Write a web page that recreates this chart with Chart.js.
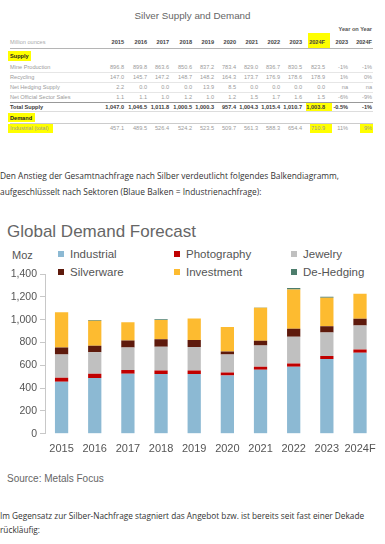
<!DOCTYPE html>
<html lang="de">
<head>
<meta charset="utf-8">
<script src="https://cdn.jsdelivr.net/npm/chart.js@4.4.1/dist/chart.umd.min.js"></script>
<style>
  html, body { margin: 0; padding: 0; background: #fff; }
  body { width: 385px; height: 544px; position: relative; overflow: hidden; font-family: "Liberation Sans", Arial, sans-serif; }
  .abs { position: absolute; white-space: nowrap; }
  .cell { position: absolute; white-space: nowrap; font-size: 5.6px; line-height: 8px; color: #9a9a9a; }
  .cell.b { font-weight: bold; color: #3a3a3a; }
  .hl { position: absolute; background: #ffff00; }
  .rule { position: absolute; left: 10px; width: 363px; }
  .para { position: absolute; left: 0; font-family: "Open Sans", sans-serif; color: #333; white-space: nowrap; }
  #legend { position: absolute; left: 58px; top: 245px; width: 330px; display: grid; grid-template-columns: 116px 117px 100px; row-gap: 0; }
  #legend div { height: 18px; line-height: 18px; font-size: 11.5px; color: #555; white-space: nowrap; }
  #legend span { display: inline-block; width: 6px; height: 6px; margin-right: 6px; vertical-align: 1px; }
</style>
</head>
<body>

<div class="abs" style="left:0;width:385px;top:10px;text-align:center;font-size:9.8px;color:#666;">Silver Supply and Demand</div>
<div id="table"></div>

<div class="para" style="top:168px;line-height:16px;font-size:8.4px;">Den Anstieg der Gesamtnachfrage nach Silber verdeutlicht folgendes Balkendiagramm,<br>aufgeschlüsselt nach Sektoren (Blaue Balken = Industrienachfrage):</div>

<div class="abs" style="left:7px;top:222px;font-size:17px;color:#666;">Global Demand Forecast</div>
<div class="abs" style="left:12px;top:249px;font-size:11px;color:#555;">Moz</div>
<div id="legend"></div>
<div class="abs" style="left:0;top:262px;width:385px;height:203px;"><canvas id="demand"></canvas></div>
<div class="abs" style="left:7px;top:473px;font-size:10px;color:#666;">Source: Metals Focus</div>

<div class="para" style="top:509px;line-height:14px;font-size:8.25px;">Im Gegensatz zur Silber-Nachfrage stagniert das Angebot bzw. ist bereits seit fast einer Dekade<br>rückläufig:</div>

<script>
// table (Silver Institute / Metals Focus)
const tableCols = ['2015', '2016', '2017', '2018', '2019', '2020', '2021', '2022', '2023', '2024F', '2023', '2024F'];
const mineProduction = ['896.8', '899.8', '863.6', '850.6', '837.2', '783.4', '829.0', '836.7', '830.5', '823.5', '-1%', '-1%'];
const recycling = ['147.0', '145.7', '147.2', '148.7', '148.2', '164.3', '173.7', '176.9', '178.6', '178.9', '1%', '0%'];
const netHedging = ['2.2', '0.0', '0.0', '0.0', '13.9', '8.5', '0.0', '0.0', '0.0', '0.0', 'na', 'na'];
const officialSales = ['1.1', '1.1', '1.0', '1.2', '1.0', '1.2', '1.5', '1.7', '1.6', '1.5', '-6%', '-9%'];
const totalSupply = ['1,047.0', '1,046.5', '1,011.8', '1,000.5', '1,000.3', '957.4', '1,004.3', '1,015.4', '1,010.7', '1,003.8', '-0.5%', '-1%'];
const industrialTotal = ['457.1', '489.5', '526.4', '524.2', '523.5', '509.7', '561.3', '588.3', '654.4', '710.9', '11%', '9%'];

// chart
const years = ['2015', '2016', '2017', '2018', '2019', '2020', '2021', '2022', '2023', '2024F'];
const industrial = [457.1, 489.5, 526.4, 524.2, 523.5, 509.7, 561.3, 588.3, 654.4, 710.9];
const photography = [35, 36, 33, 31, 31, 27, 27, 28, 28, 27];
const jewelry = [203, 190, 196, 207, 205, 157, 186, 235, 204, 210];
const silverware = [60, 56, 62, 66, 63, 28, 42, 68, 55, 60];
const investment = [310, 218, 160, 169, 188, 213, 289, 345, 250, 219];
const deHedging = [0, 8, 0, 6, 0, 0, 2, 13, 10, 0];
const yTicks = [0, 200, 400, 600, 800, 1000, 1200, 1400];

// --- table drawing ---
const table = document.getElementById('table');
const colRight = [124, 147, 169, 192, 214, 236, 258, 280, 302, 325, 348, 372];

function box(x, y, w, h) {
  const d = document.createElement('div');
  d.className = 'hl';
  d.style.cssText = `left:${x}px;top:${y}px;width:${w}px;height:${h}px`;
  table.appendChild(d);
}
function rule(y, h, c) {
  const d = document.createElement('div');
  d.className = 'rule';
  d.style.cssText = `top:${y}px;height:${h}px;background:${c}`;
  table.appendChild(d);
}
function text(t, y, opts) {
  const s = document.createElement('div');
  s.className = 'cell' + (opts.bold ? ' b' : '');
  s.textContent = t;
  s.style.top = (y - 4) + 'px';
  if (opts.right != null) s.style.right = (385 - opts.right) + 'px';
  else s.style.left = opts.left + 'px';
  if (opts.color) s.style.color = opts.color;
  table.appendChild(s);
}

box(308, 33, 22, 15);
box(8, 51, 23, 10);
box(306, 102, 26, 10);
box(8, 113, 27, 9);
box(8, 124, 45, 9);
box(310, 124, 22, 9);
box(360, 124, 13, 9);

rule(47.5, 1.5, '#b5b5b5');
[71.5, 81.5, 91.5].forEach(y => rule(y, 0.6, '#e6e6e6'));
rule(101.5, 0.8, '#999');
rule(111, 0.6, '#ddd');
rule(122.5, 0.8, '#ccc');

text('Year on Year', 29, { right: 372, bold: true, color: '#555' });
text('Million ounces', 42, { left: 10, color: '#aaa' });
tableCols.forEach((c, i) => text(c, 42, { right: colRight[i], bold: true, color: '#444' }));
text('Supply', 56, { left: 10, bold: true, color: '#222' });

const rows = [
  ['Mine Production', mineProduction, 66.7, false],
  ['Recycling', recycling, 76.7, false],
  ['Net Hedging Supply', netHedging, 86.7, false],
  ['Net Official Sector Sales', officialSales, 96.7, false],
  ['Total Supply', totalSupply, 106.5, true]
];
rows.forEach(([label, vals, y, bold]) => {
  text(label, y, { left: 10, bold });
  vals.forEach((v, i) => text(v, y, { right: colRight[i], bold }));
});
text('Demand', 118, { left: 10, bold: true, color: '#222' });
text('Industrial (total)', 128, { left: 10 });
industrialTotal.forEach((v, i) => text(v, 128, { right: colRight[i] }));

// --- chart ---
const series = [
  { label: 'Industrial', data: industrial, color: '#8cb9d3' },
  { label: 'Photography', data: photography, color: '#c00000' },
  { label: 'Jewelry', data: jewelry, color: '#c0c0c0' },
  { label: 'Silverware', data: silverware, color: '#5e1a0c' },
  { label: 'Investment', data: investment, color: '#fdbb30' },
  { label: 'De-Hedging', data: deHedging, color: '#4d7d6c' }
];

const legend = document.getElementById('legend');
series.forEach(s => {
  const item = document.createElement('div');
  item.innerHTML = `<span style="background:${s.color}"></span>${s.label}`;
  legend.appendChild(item);
});

new Chart(document.getElementById('demand'), {
  type: 'bar',
  data: {
    labels: years,
    datasets: series.map(s => ({
      label: s.label,
      data: s.data,
      backgroundColor: s.color,
      borderWidth: 0,
      barPercentage: 0.4,
      categoryPercentage: 1
    }))
  },
  options: {
    responsive: true,
    maintainAspectRatio: false,
    animation: false,
    layout: { padding: { top: 12, right: 8, left: 0, bottom: 0 } },
    plugins: { legend: { display: false }, tooltip: { enabled: false } },
    scales: {
      x: {
        stacked: true,
        grid: { display: false, drawTicks: false },
        border: { display: false },
        ticks: {
          color: '#555',
          padding: 9,
          maxRotation: 0,
          minRotation: 0,
          autoSkip: false,
          font: { family: 'Liberation Sans', size: 11 }
        }
      },
      y: {
        stacked: true,
        min: 0,
        max: 1400,
        afterBuildTicks: scale => { scale.ticks = yTicks.map(v => ({ value: v })); },
        afterFit: scale => { scale.width = 45; },
        grid: { drawOnChartArea: false, drawTicks: true, tickLength: 5, color: '#c8c8c8' },
        border: { display: true, color: '#c8c8c8' },
        ticks: {
          color: '#555',
          padding: 3,
          font: { family: 'Liberation Sans', size: 10.5 },
          callback: v => v.toLocaleString('en-US')
        }
      }
    }
  }
});
</script>
</body>
</html>
